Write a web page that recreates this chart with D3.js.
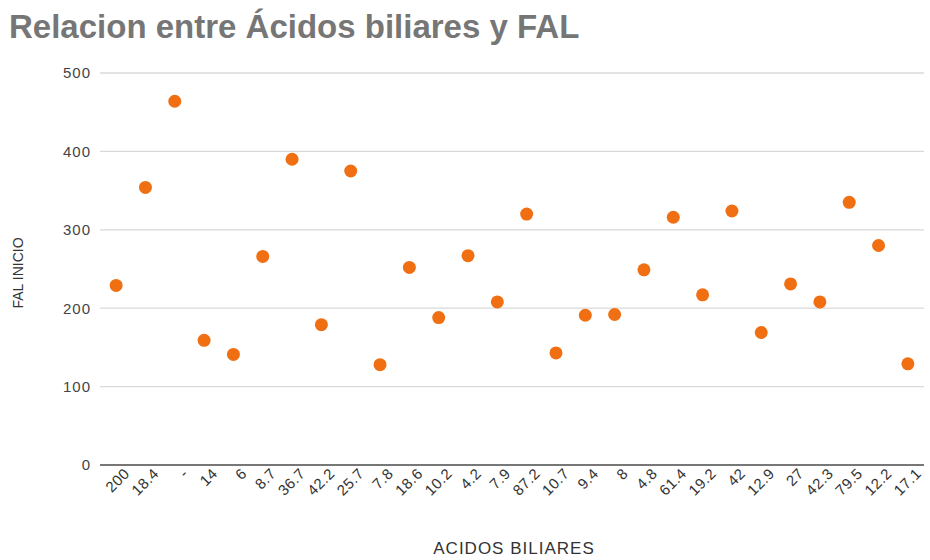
<!DOCTYPE html>
<html>
<head>
<meta charset="utf-8">
<script src="https://cdn.jsdelivr.net/npm/d3@7"></script>
<style>
  body { margin: 0; background: #fff; }
  text { font-family: "Liberation Sans", Arial, sans-serif; }
</style>
</head>
<body>
<svg id="chart"></svg>
<script>
// x categories (Acidos biliares) as shown on the axis, in order
var acidos = ["200", "18.4", "-", "14", "6", "8.7", "36.7", "42.2", "25.7", "7.8",
    "18.6", "10.2", "4.2", "7.9", "87.2", "10.7", "9.4", "8", "4.8", "61.4",
    "19.2", "42", "12.9", "27", "42.3", "79.5", "12.2", "17.1"];

// FAL inicio
var falInicio = [229, 354, 464, 159, 141, 266, 390, 179, 375, 128,
    252, 188, 267, 208, 320, 143, 191, 192, 249, 316,
    217, 324, 169, 231, 208, 335, 280, 129];

var yTicks = [0, 100, 200, 300, 400, 500];

var width = 930, height = 560;
var margin = {top: 73, right: 6, bottom: 95, left: 100};

var svg = d3.select("#chart")
    .attr("width", width)
    .attr("height", height);

var points = acidos.map(function (a, i) {
    return {label: a, idx: i, value: falInicio[i]};
});

var x = d3.scalePoint()
    .domain(d3.range(acidos.length))
    .range([margin.left, width - margin.right])
    .padding(0.55);

var y = d3.scaleLinear()
    .domain([0, 500])
    .range([height - margin.bottom, margin.top]);

// title
svg.append("text")
    .attr("x", 9)
    .attr("y", 38)
    .style("font-size", "33px")
    .style("font-weight", "bold")
    .style("fill", "#767676")
    .text("Relacion entre Ácidos biliares y FAL");

// gridlines
var grid = svg.append("g").attr("class", "grid");
grid.selectAll("line")
    .data(yTicks.filter(function (t) { return t > 0; }))
    .enter().append("line")
    .attr("x1", margin.left)
    .attr("x2", width - margin.right)
    .attr("y1", function (d) { return y(d); })
    .attr("y2", function (d) { return y(d); })
    .style("stroke", "#d9d9d9")
    .style("stroke-width", 1.3);

// y axis labels
var yAxis = d3.axisLeft(y).tickValues(yTicks).tickSize(0).tickPadding(9);
svg.append("g")
    .attr("transform", "translate(" + margin.left + ",0)")
    .call(yAxis)
    .call(function (g) { g.select(".domain").remove(); })
    .selectAll("text")
    .style("font-size", "15px")
    .style("letter-spacing", "1px")
    .style("fill", "#444");

// x axis
var xAxis = d3.axisBottom(x)
    .tickSize(0)
    .tickFormat(function (i) { return acidos[i]; });

var xg = svg.append("g")
    .attr("transform", "translate(0," + y(0) + ")")
    .call(xAxis);

xg.select(".domain").remove();
xg.append("line")
    .attr("x1", margin.left)
    .attr("x2", width - margin.right)
    .style("stroke", "#777")
    .style("stroke-width", 2);

xg.selectAll(".tick text")
    .style("font-size", "15px")
    .style("letter-spacing", "0.5px")
    .style("fill", "#333")
    .style("text-anchor", "end")
    .attr("dx", "0.2em")
    .attr("dy", "0.9em")
    .attr("y", 3)
    .attr("transform", "rotate(-45)");

// axis titles
svg.append("text")
    .attr("x", 514)
    .attr("y", 554)
    .style("text-anchor", "middle")
    .style("font-size", "17px")
    .style("letter-spacing", "1px")
    .style("fill", "#333")
    .text("ACIDOS BILIARES");

svg.append("text")
    .attr("transform", "translate(23," + 273 + ") rotate(-90)")
    .style("text-anchor", "middle")
    .style("font-size", "14px")
    .style("fill", "#333")
    .text("FAL INICIO");

// dots
svg.append("g")
    .selectAll("circle")
    .data(points)
    .enter().append("circle")
    .attr("cx", function (d) { return x(d.idx); })
    .attr("cy", function (d) { return y(d.value); })
    .attr("r", 6.5)
    .style("fill", "#f06f13");
</script>
</body>
</html>
